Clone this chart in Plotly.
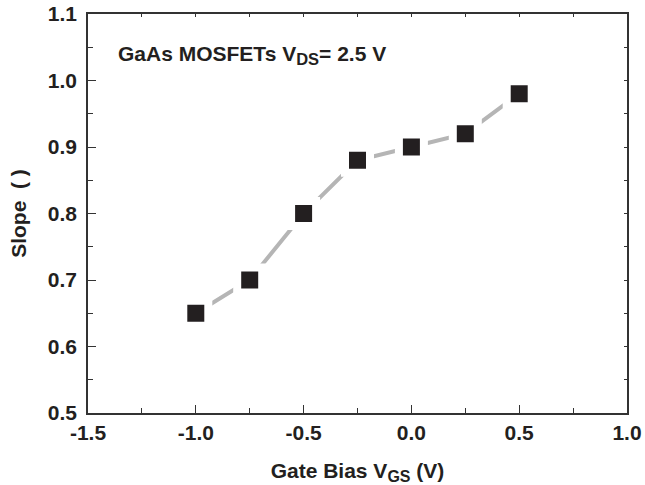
import plotly.graph_objects as go

gate_bias = [-1.0, -0.75, -0.5, -0.25, 0.0, 0.25, 0.5]
slope = [0.65, 0.70, 0.80, 0.88, 0.90, 0.92, 0.98]

x_ticks = [-1.5, -1.0, -0.5, 0.0, 0.5, 1.0]
x_tick_labels = ["-1.5", "-1.0", "-0.5", "0.0", "0.5", "1.0"]
y_ticks = [0.5, 0.6, 0.7, 0.8, 0.9, 1.0, 1.1]
y_tick_labels = ["0.5", "0.6", "0.7", "0.8", "0.9", "1.0", "1.1"]

ink = "#231f20"
axc = "#333333"
font = "Liberation Sans, Arial, sans-serif"
fs = 21

fig = go.Figure()
fig.add_trace(go.Scatter(
    x=gate_bias, y=slope, mode="lines",
    line=dict(color="#b5b5b5", width=4),
    showlegend=False, hoverinfo="skip"))
fig.add_trace(go.Scatter(
    x=gate_bias, y=slope, mode="markers",
    marker=dict(symbol="square", size=25, color=ink,
                line=dict(color="white", width=8)),
    showlegend=False))
# invisible trace for mirror axes
fig.add_trace(go.Scatter(x=[-1.5], y=[0.5], xaxis="x2", yaxis="y2",
                         mode="markers", marker=dict(opacity=0),
                         showlegend=False, hoverinfo="skip"))

axis_common = dict(showgrid=False, zeroline=False, showline=True,
                   linecolor=axc, linewidth=1.6,
                   ticks="inside", ticklen=8, tickwidth=1.3, tickcolor=axc,
                   ticklabeloverflow="allow", automargin=False,
                   tickfont=dict(family=font, size=fs, color=ink))

fig.update_layout(
    width=645, height=485,
    margin=dict(l=88, r=18, t=14, b=72),
    paper_bgcolor="white", plot_bgcolor="white",
    font=dict(family=font, color=ink),
    xaxis=dict(range=[-1.5, 1.0], tickvals=x_ticks,
               ticktext=["<b>%s</b>" % t for t in x_tick_labels],
               ticklabelstandoff=0,
               minor=dict(ticks="inside", ticklen=5, dtick=0.25, tick0=-1.5,
                          tickcolor=axc, tickwidth=1.3),
               title=dict(text="<b>Gate Bias V<sub><span style='font-size:16px'>GS</span></sub> (V)</b>",
                          font=dict(family=font, size=fs, color=ink), standoff=22),
               **axis_common),
    yaxis=dict(range=[0.5, 1.1], tickvals=y_ticks,
               ticktext=["<b>%s</b>" % t for t in y_tick_labels],
               ticklabelstandoff=5,
               minor=dict(ticks="inside", ticklen=5, dtick=0.05, tick0=0.5,
                          tickcolor=axc, tickwidth=1.3),
               title=dict(text="<b>Slope  ( )</b>",
                          font=dict(family=font, size=fs, color=ink), standoff=15),
               **axis_common),
    xaxis2=dict(overlaying="x", side="top", range=[-1.5, 1.0], dtick=0.25, tick0=-1.5,
                ticks="inside", ticklen=3, tickcolor=axc, showticklabels=False,
                showline=True, linecolor=axc, linewidth=1.6, automargin=False,
                showgrid=False, zeroline=False),
    yaxis2=dict(overlaying="y", side="right", range=[0.5, 1.1], dtick=0.05, tick0=0.5,
                ticks="inside", ticklen=3, tickcolor=axc, showticklabels=False,
                showline=True, linecolor=axc, linewidth=1.6, automargin=False,
                showgrid=False, zeroline=False),
    annotations=[dict(
        x=0.0525, y=0.936, xref="paper", yref="paper", xanchor="left", yanchor="top",
        text="<b>GaAs MOSFETs V<sub><span style='font-size:16.5px'>DS</span></sub>= 2.5 V</b>",
        showarrow=False,
        font=dict(family=font, size=fs, color=ink))],
)

fig.write_html("out.html",
               config={"displayModeBar": False},
               post_script="document.body.style.margin='0';document.body.style.overflow='hidden';")
